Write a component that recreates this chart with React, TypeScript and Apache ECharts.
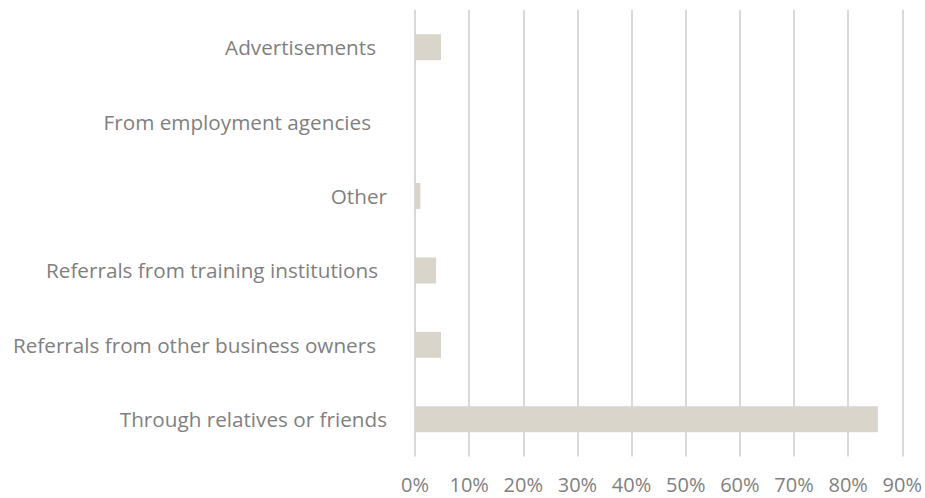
import React, { useEffect, useRef } from "react";
import * as echarts from "echarts";

const categories = [
  "Through relatives or friends",
  "Referrals from other business owners",
  "Referrals from training institutions",
  "Other",
  "From employment agencies",
  "Advertisements",
];
const values = [85.5, 4.8, 3.9, 1.0, 0, 4.8];
const xTicks = [0, 10, 20, 30, 40, 50, 60, 70, 80, 90];

// extra right padding per label (trailing space in the original)
const labelPad: Record<string, number> = {
  "Through relatives or friends": 0,
  "Referrals from other business owners": 11,
  "Referrals from training institutions": 9,
  "Other": 0,
  "From employment agencies": 16,
  "Advertisements": 11,
};

export default function App() {
  const ref = useRef<HTMLDivElement>(null);
  useEffect(() => {
    if (!ref.current) return;
    const chart = echarts.init(ref.current, undefined, { renderer: "svg" });
    const rich: Record<string, any> = {};
    categories.forEach((c, i) => {
      rich["p" + i] = {
        color: "#7F7F7F",
        fontFamily: "Open Sans",
        fontSize: 20.7,
        padding: [0, labelPad[c] || 0, 0, 0],
      };
    });
    chart.setOption({
      animation: false,
      grid: { left: 415, right: 22, top: 10, bottom: 41.5, containLabel: false },
      xAxis: {
        type: "value",
        min: xTicks[0],
        max: xTicks[xTicks.length - 1],
        interval: 10,
        axisLine: { show: false },
        axisTick: { show: false },
        splitLine: { show: true, lineStyle: { color: "#D9D9D9", width: 2 } },
        axisLabel: {
          formatter: (v: number) => v + "%",
          color: "#7F7F7F",
          fontFamily: "Open Sans",
          fontSize: 20,
          margin: 18,
        },
      },
      yAxis: {
        type: "category",
        data: categories,
        axisLine: { show: false },
        axisTick: { show: false },
        splitLine: { show: false },
        axisLabel: {
          color: "#7F7F7F",
          fontFamily: "Open Sans",
          fontSize: 20.7,
          margin: 28,
          formatter: (v: string) => {
            const i = categories.indexOf(v);
            return "{p" + i + "|" + v + "}";
          },
          rich,
        },
      },
      series: [
        {
          type: "bar",
          data: values,
          barWidth: 26,
          itemStyle: { color: "#D9D5CB" },
        },
      ],
    });
    return () => chart.dispose();
  }, []);
  return <div ref={ref} style={{ width: 925, height: 498, position: "absolute", left: 0, top: 0 }} />;
}
